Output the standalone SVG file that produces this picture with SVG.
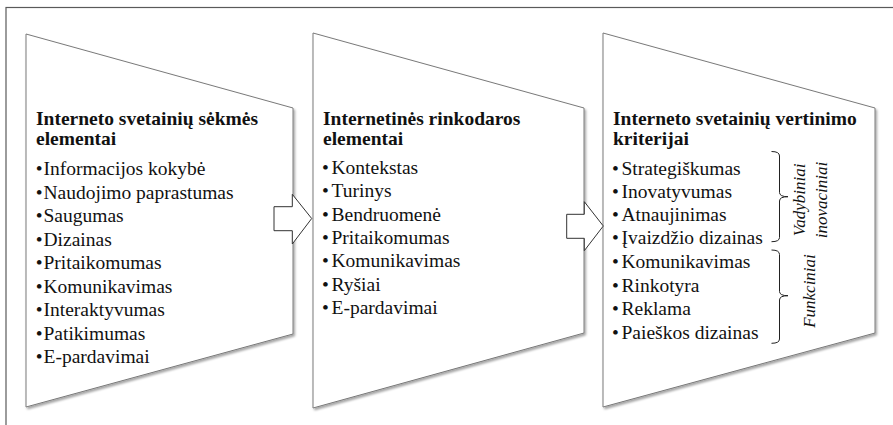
<svg xmlns="http://www.w3.org/2000/svg" width="893" height="425" viewBox="0 0 893 425">
<defs>
<filter id="sh" x="-10%" y="-10%" width="120%" height="120%">
<feDropShadow dx="1.5" dy="2" stdDeviation="1.3" flood-color="#000" flood-opacity="0.35"/>
</filter>
<style>
.frame{fill:none;stroke:#5a5a5a;stroke-width:1.2}
.shape{fill:#fff;stroke:#7a7a7a;stroke-width:1;filter:url(#sh)}
.arrow{fill:#fff;stroke:#333;stroke-width:1}
.brace{fill:none;stroke:#222;stroke-width:1}
text{font-family:"Liberation Serif","Times New Roman",serif;fill:#111}
.title{font-size:19.5px;font-weight:bold}
.item{font-size:19.5px}
.side{font-size:17px;font-style:italic}
</style>
</defs>
<rect class="frame" x="6" y="7.5" width="900" height="430"/>

<g id="node1">
<polygon class="shape" points="26,34 293,108 293,334 26,407"/>
<text class="title"><tspan x="36" y="125">Interneto svetainių sėkmės</tspan><tspan x="36" y="145">elementai</tspan></text>
<g class="item">
<text class="item" x="35.7" y="175">•</text><text class="item" x="43.5" y="175">Informacijos kokybė</text>
<text class="item" x="35.7" y="198.5">•</text><text class="item" x="43.5" y="198.5">Naudojimo paprastumas</text>
<text class="item" x="35.7" y="222">•</text><text class="item" x="43.5" y="222">Saugumas</text>
<text class="item" x="35.7" y="245.5">•</text><text class="item" x="43.5" y="245.5">Dizainas</text>
<text class="item" x="35.7" y="269">•</text><text class="item" x="43.5" y="269">Pritaikomumas</text>
<text class="item" x="35.7" y="292.5">•</text><text class="item" x="43.5" y="292.5">Komunikavimas</text>
<text class="item" x="35.7" y="316">•</text><text class="item" x="43.5" y="316">Interaktyvumas</text>
<text class="item" x="35.7" y="339.5">•</text><text class="item" x="43.5" y="339.5">Patikimumas</text>
<text class="item" x="35.7" y="363">•</text><text class="item" x="43.5" y="363">E-pardavimai</text>
</g>
</g>

<g id="node2">
<polygon class="shape" points="313,33 584,108 584,333 313,408"/>
<text class="title"><tspan x="323" y="125">Internetinės rinkodaros</tspan><tspan x="323" y="145">elementai</tspan></text>
<text class="item" x="322" y="174">•</text><text class="item" x="331.5" y="174">Kontekstas</text>
<text class="item" x="322" y="197.3">•</text><text class="item" x="331.5" y="197.3">Turinys</text>
<text class="item" x="322" y="220.6">•</text><text class="item" x="331.5" y="220.6">Bendruomenė</text>
<text class="item" x="322" y="243.9">•</text><text class="item" x="331.5" y="243.9">Pritaikomumas</text>
<text class="item" x="322" y="267.2">•</text><text class="item" x="331.5" y="267.2">Komunikavimas</text>
<text class="item" x="322" y="290.5">•</text><text class="item" x="331.5" y="290.5">Ryšiai</text>
<text class="item" x="322" y="313.8">•</text><text class="item" x="331.5" y="313.8">E-pardavimai</text>
</g>

<g id="node3">
<polygon class="shape" points="603,33 875,108 875,333 603,407"/>
<text class="title"><tspan x="613" y="125">Interneto svetainių vertinimo</tspan><tspan x="613" y="145">kriterijai</tspan></text>
<text class="item" x="612" y="174.5">•</text><text class="item" x="621.5" y="174.5">Strategiškumas</text>
<text class="item" x="612" y="197.5">•</text><text class="item" x="621.5" y="197.5">Inovatyvumas</text>
<text class="item" x="612" y="220.5">•</text><text class="item" x="621.5" y="220.5">Atnaujinimas</text>
<text class="item" x="612" y="243.5">•</text><text class="item" x="621.5" y="243.5">Įvaizdžio dizainas</text>
<text class="item" x="612" y="267.5">•</text><text class="item" x="621.5" y="267.5">Komunikavimas</text>
<text class="item" x="612" y="291.5">•</text><text class="item" x="621.5" y="291.5">Rinkotyra</text>
<text class="item" x="612" y="315.3">•</text><text class="item" x="621.5" y="315.3">Reklama</text>
<text class="item" x="612" y="339">•</text><text class="item" x="621.5" y="339">Paieškos dizainas</text>
<path class="brace" d="M771.5,151.5 Q779.5,151.5 779.5,156 L779.5,192.5 Q779.5,196.7 788,196.7 Q779.5,196.7 779.5,201 L779.5,237.5 Q779.5,241.7 771.5,241.7"/>
<path class="brace" d="M771.5,250 Q779.5,250 779.5,254.5 L779.5,291.5 Q779.5,295.7 788,295.7 Q779.5,295.7 779.5,300 L779.5,339 Q779.5,343.3 771.5,343.3"/>
<text class="side" transform="translate(805,200) rotate(-90)" text-anchor="middle">Vadybiniai</text>
<text class="side" transform="translate(826.5,200) rotate(-90)" text-anchor="middle">inovaciniai</text>
<text class="side" transform="translate(815,291) rotate(-90)" text-anchor="middle">Funkciniai</text>
</g>

<g id="connectors">
<polygon class="arrow" points="274,206.7 292.3,206.7 292.3,194.3 311.7,218.5 292.3,244 292.3,230.7 274,230.7"/>
<polygon class="arrow" points="566.7,214.3 584.3,214.3 584.3,201.7 603.3,226 584.3,250.7 584.3,238.3 566.7,238.3"/>
</g>
</svg>
